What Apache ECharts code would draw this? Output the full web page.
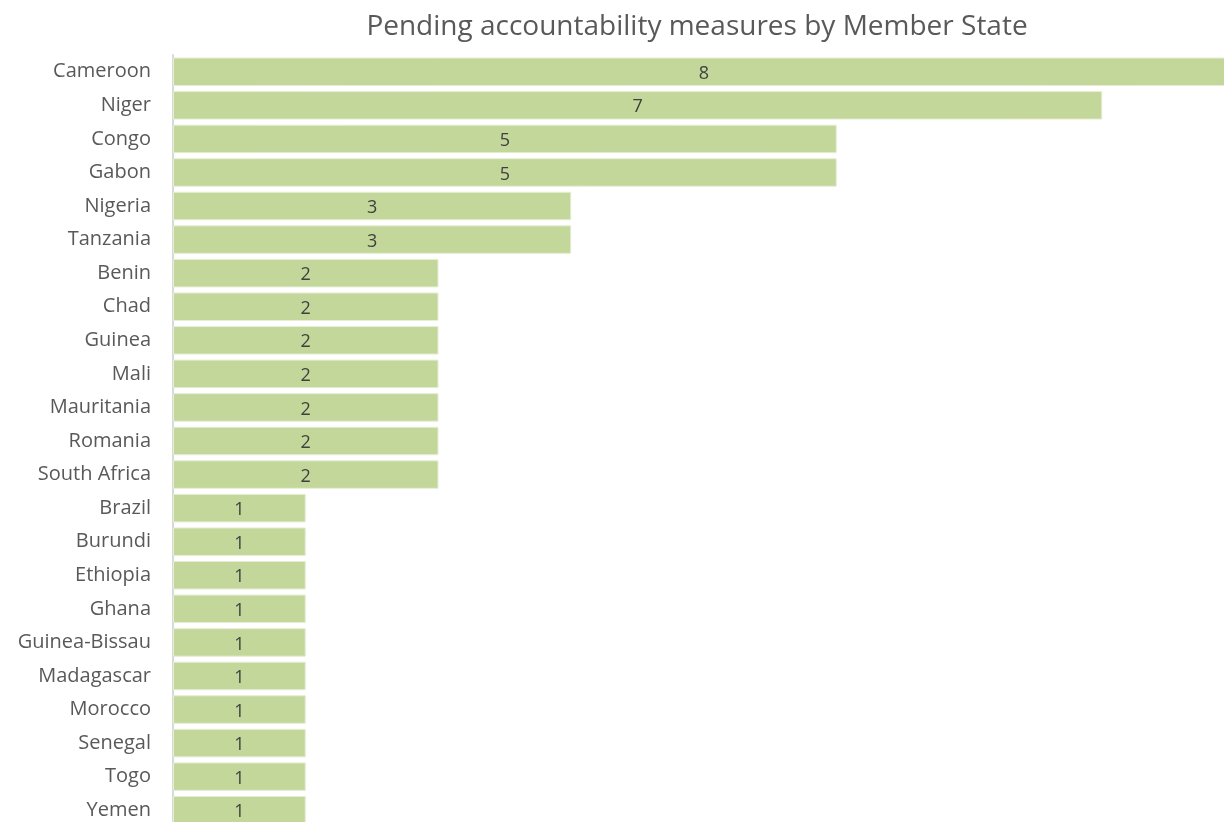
<!DOCTYPE html>
<html>
<head>
<meta charset="utf-8">
<script src="https://cdn.jsdelivr.net/npm/echarts@6/dist/echarts.min.js"></script>
<style>
html, body { margin: 0; padding: 0; background: #fff; }
#chart { width: 1224px; height: 822px; }
</style>
</head>
<body>
<div id="chart"></div>
<script>
// 国家（从上到下）
var countries = ['Cameroon', 'Niger', 'Congo', 'Gabon', 'Nigeria', 'Tanzania', 'Benin', 'Chad',
    'Guinea', 'Mali', 'Mauritania', 'Romania', 'South Africa', 'Brazil', 'Burundi', 'Ethiopia',
    'Ghana', 'Guinea-Bissau', 'Madagascar', 'Morocco', 'Senegal', 'Togo', 'Yemen'];
var measures = [8, 7, 5, 5, 3, 3, 2, 2, 2, 2, 2, 2, 2, 1, 1, 1, 1, 1, 1, 1, 1, 1, 1];

var chart = echarts.init(document.getElementById('chart'));
chart.setOption({
    animation: false,
    title: {
        text: 'Pending accountability measures by Member State',
        left: 692,
        textAlign: 'center',
        top: 8,
        textStyle: {
            fontFamily: 'Open Sans',
            fontSize: 28,
            fontWeight: 'normal',
            color: '#595959'
        }
    },
    // 图表右侧被裁掉一点，所以宽度超出画布
    grid: {
        left: 173,
        top: 55,
        width: 1062,
        height: 772,
        containLabel: false,
        outerBoundsMode: 'none'
    },
    xAxis: {
        type: 'value',
        min: 0,
        max: 8,
        show: false
    },
    yAxis: {
        type: 'category',
        data: countries,
        inverse: true,
        axisLine: { show: true, lineStyle: { color: '#D9D9D9', width: 2 } },
        axisTick: { show: false },
        axisLabel: {
            margin: 22,
            padding: [4, 0, 0, 0],
            fontFamily: 'Open Sans',
            fontSize: 20,
            color: '#595959'
        }
    },
    series: [
        {
            name: 'Measures',
            type: 'bar',
            data: measures,
            barCategoryGap: '15%',
            itemStyle: {
                color: '#C4D79B',
                borderColor: '#E6EED5',
                borderWidth: 1
            },
            label: {
                show: true,
                position: 'inside',
                offset: [0, 2],
                fontFamily: 'Open Sans',
                fontSize: 18,
                color: '#404040'
            }
        }
    ]
});
</script>
</body>
</html>
